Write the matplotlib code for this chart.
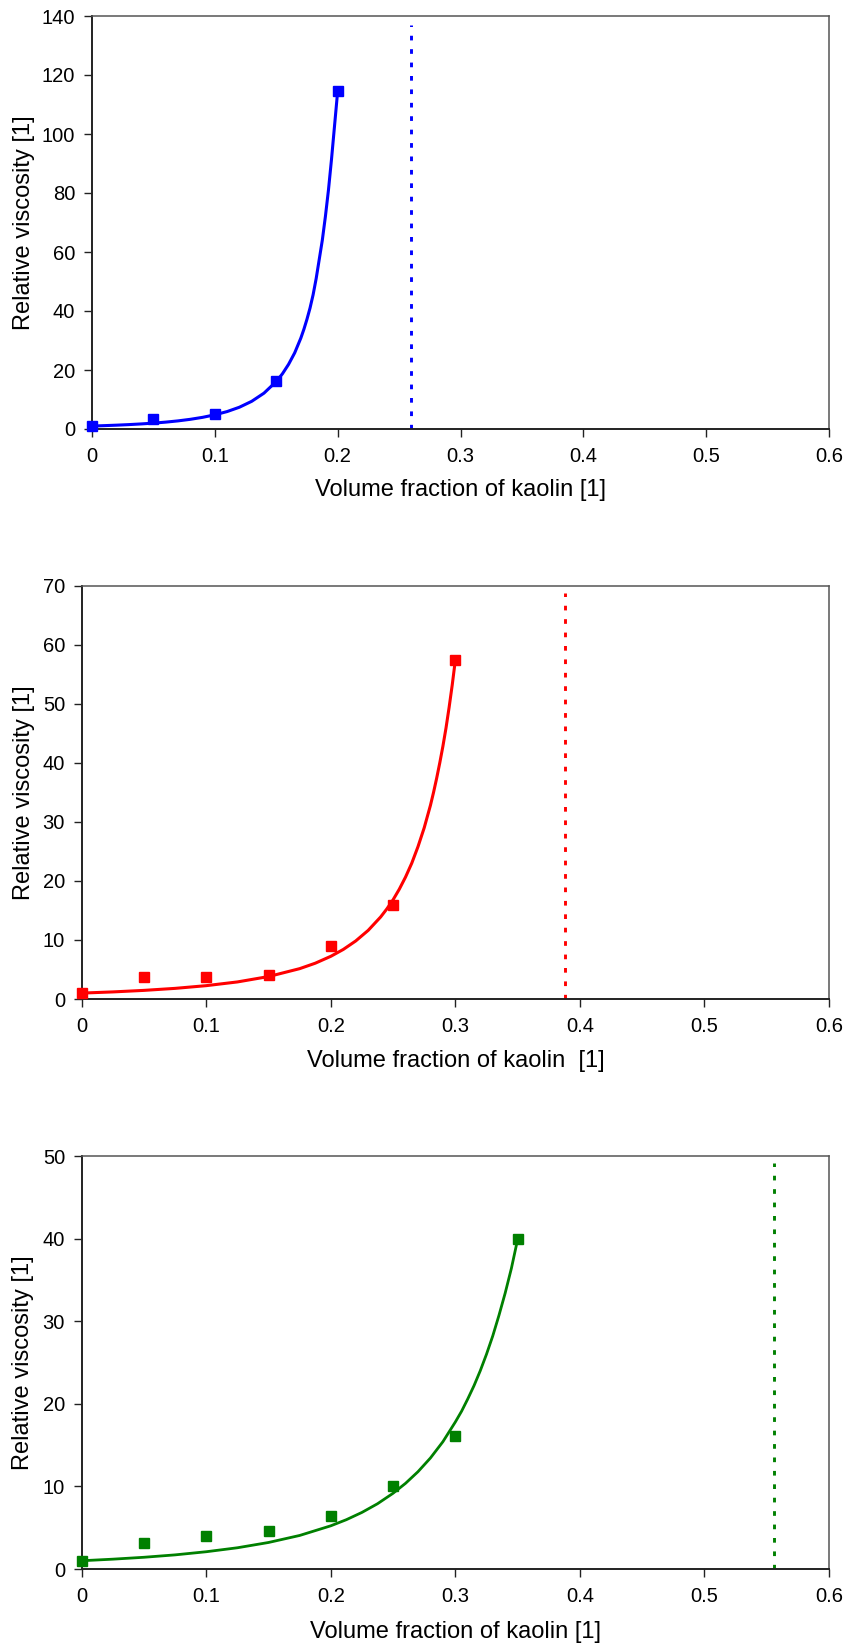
import matplotlib
matplotlib.use('Agg')
import matplotlib.pyplot as plt

plt.rcParams['font.family'] = ['Liberation Sans', 'DejaVu Sans']

# measured points (volume fraction, relative viscosity)
phi_meas_1 = [0.0, 0.05, 0.10, 0.15, 0.20]
eta_meas_1 = [1.1, 3.3, 5.0, 16.2, 114.5]
phi_meas_2 = [0.0, 0.05, 0.10, 0.15, 0.20, 0.25, 0.30]
eta_meas_2 = [1.0, 3.8, 3.8, 4.1, 8.9, 15.9, 57.4]
phi_meas_3 = [0.0, 0.05, 0.10, 0.15, 0.20, 0.25, 0.30, 0.35]
eta_meas_3 = [1.0, 3.15, 4.05, 4.6, 6.45, 10.1, 16.05, 39.9]

# fitted curves
phi_fit_1 = [0.0, 0.01, 0.02, 0.03, 0.04, 0.05, 0.06, 0.07, 0.08, 0.09, 0.10,
             0.11, 0.12, 0.13, 0.14, 0.15, 0.155, 0.16, 0.165, 0.17, 0.1725,
             0.175, 0.1775, 0.18, 0.1825, 0.185, 0.1875, 0.19, 0.1925, 0.195,
             0.1975, 0.20]
eta_fit_1 = [1.0, 1.14, 1.30, 1.49, 1.72, 1.99, 2.33, 2.75, 3.28, 3.95, 4.81,
             5.91, 7.38, 9.38, 12.15, 16.1, 18.7, 21.9, 25.8, 30.8, 33.8,
             37.2, 41.0, 45.5, 51.0, 57.5, 64.0, 72.0, 81.0, 91.5,
             103.0, 114.5]
phi_fit_2 = [0.0, 0.025, 0.05, 0.075, 0.10, 0.125, 0.15, 0.175, 0.1875, 0.20,
             0.21, 0.22, 0.23, 0.24, 0.245, 0.25, 0.255, 0.26, 0.265, 0.27,
             0.275, 0.28, 0.2825, 0.285, 0.2875, 0.29, 0.2925, 0.295, 0.2975,
             0.30]
eta_fit_2 = [1.0, 1.20, 1.46, 1.80, 2.26, 2.89, 3.80, 5.14, 6.06, 7.23,
             8.39, 9.83, 11.62, 13.89, 15.26, 16.8, 18.6, 20.65, 23.0, 25.8,
             29.0, 32.8, 35.0, 37.4, 40.0, 42.8, 45.9, 49.4, 53.2,
             57.4]
phi_fit_3 = [0.0, 0.025, 0.05, 0.075, 0.10, 0.125, 0.15, 0.175, 0.20, 0.2125,
             0.225, 0.2375, 0.25, 0.26, 0.27, 0.28, 0.29, 0.30, 0.305, 0.31,
             0.315, 0.32, 0.325, 0.33, 0.335, 0.34, 0.345, 0.35]
eta_fit_3 = [1.0, 1.19, 1.42, 1.71, 2.09, 2.57, 3.21, 4.06, 5.23, 5.97,
             6.85, 7.90, 9.17, 10.37, 11.78, 13.44, 15.41, 17.8, 19.1, 20.6,
             22.2, 24.0, 26.0, 28.2, 30.7, 33.4, 36.4, 39.9]

# maximum packing fraction lines
phi_max = [0.26, 0.388, 0.556]
phi_max_top = [137, 68.8, 49.1]

y_max = [140, 70, 50]
y_step = [20, 10, 10]
xlabels = ['Volume fraction of kaolin [1]',
           'Volume fraction of kaolin  [1]',
           'Volume fraction of kaolin [1]']
colours = ['#0000ff', '#ff0000', '#008000']

W, H = 846.0, 1651.0
# axes boxes in pixels: left, right, top, bottom
boxes = [(92, 829, 16, 429), (81.7, 829, 585.7, 999), (81.7, 829, 1156, 1569)]
ylab_x = [-0.0927, -0.077, -0.078]
xlab_y = [-0.148, -0.149, -0.152]

fig = plt.figure(figsize=(8.46, 16.51), dpi=100, facecolor='w')

data = [(phi_meas_1, eta_meas_1, phi_fit_1, eta_fit_1),
        (phi_meas_2, eta_meas_2, phi_fit_2, eta_fit_2),
        (phi_meas_3, eta_meas_3, phi_fit_3, eta_fit_3)]

for i in range(3):
    l, r, t, b = boxes[i]
    ax = fig.add_axes([l / W, 1 - b / H, (r - l) / W, (b - t) / H])
    pm, em, pf, ef = data[i]
    c = colours[i]

    ax.plot(pf, ef, color=c, lw=2.2 if i < 2 else 2.0, solid_joinstyle='round',
            zorder=3)
    ax.plot(pm, em, ls='none', marker='s', ms=7, color=c, mec=c, zorder=4,
            clip_on=False)
    ax.plot([phi_max[i], phi_max[i]], [0, phi_max_top[i]], color=c, lw=2.1,
            ls=(0, (1.6, 3.0)), dash_capstyle='butt', zorder=2)

    ax.set_xlim(0, 0.6)
    ax.set_ylim(0, y_max[i])
    ax.set_xticks([0, 0.1, 0.2, 0.3, 0.4, 0.5, 0.6])
    ax.set_xticklabels(['0', '0.1', '0.2', '0.3', '0.4', '0.5', '0.6'])
    ax.set_yticks(range(0, y_max[i] + 1, y_step[i]))

    ax.tick_params(axis='x', direction='out', length=6, width=1.0,
                   colors='#222222', labelcolor='black', labelsize=14.5,
                   pad=7)
    ax.tick_params(axis='y', direction='out', length=6, width=1.0,
                   colors='#222222', labelcolor='black', labelsize=14.5,
                   pad=6)

    for side in ['left', 'bottom']:
        ax.spines[side].set_linewidth(1.4)
        ax.spines[side].set_color('#222222')
    for side in ['top', 'right']:
        ax.spines[side].set_linewidth(1.1)
        ax.spines[side].set_color('#555555')

    ax.set_xlabel(xlabels[i], fontsize=17, va='center')
    ax.xaxis.set_label_coords(0.5, xlab_y[i])
    ax.set_ylabel('Relative viscosity [1]', fontsize=17, va='center')
    ax.yaxis.set_label_coords(ylab_x[i], 0.5)

plt.savefig('out.png', dpi=100, facecolor='w')
